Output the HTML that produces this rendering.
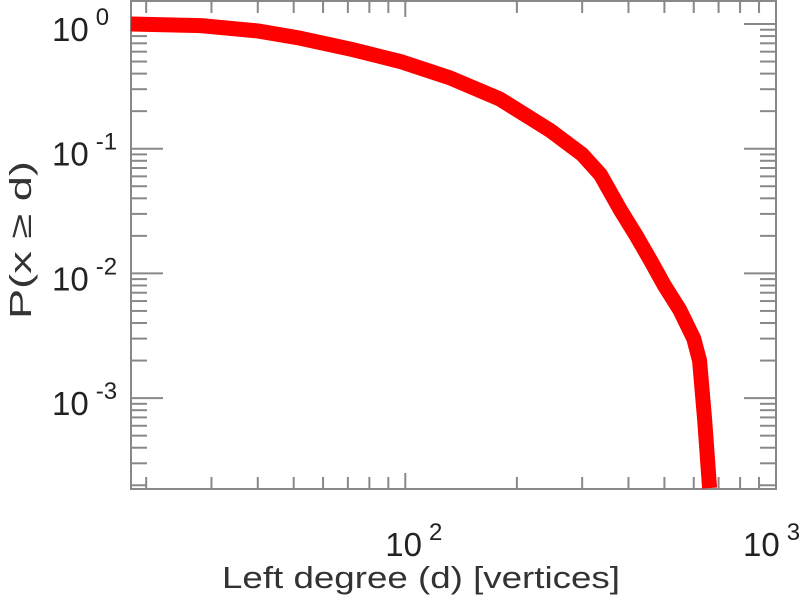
<!DOCTYPE html>
<html><head><meta charset="utf-8"><style>
body{margin:0;background:#fff;}
svg{display:block;font-family:"Liberation Sans",sans-serif;}
</style></head><body>
<svg id="chart" width="805" height="600" viewBox="0 0 805 600"></svg>
<script>
const degrees=[18.2,28.1,40,52,71,97,132,180,246,300,336,381,420,458,500,550,600,622,642,662];
const probs=[1.0,0.97,0.88,0.77,0.63,0.50,0.37,0.25,0.14,0.09,0.062,0.032,0.02,0.0128,0.008,0.0051,0.003,0.002,0.00067,0.00019];
const xTicks=[100,1000];
const xTickExp=["2","3"];
const yTicks=[1,0.1,0.01,0.001];
const yTickExp=["0","-1","-2","-3"];

const L=131,R=776,T=1,B=489;
const xMinL=Math.log10(18.2),xMaxL=3;
const yDec=124.7,y0=24;
function X(v){return L+(Math.log10(v)-xMinL)/(xMaxL-xMinL)*(R-L);}
function Y(v){return y0-Math.log10(v)*yDec;}
const svg=document.getElementById('chart');
const NS='http://www.w3.org/2000/svg';
function mk(t,a,p){const e=document.createElementNS(NS,t);for(const k in a)e.setAttribute(k,a[k]);(p||svg).appendChild(e);return e;}

const fr=mk('rect',{x:L,y:T,width:R-L,height:B-T,fill:'none',stroke:'#888','stroke-width':2});



for(let d=1;d<=3;d++){for(let m=1;m<10;m++){const v=m*Math.pow(10,d);const px=X(v);if(px<L+1||px>R+0.5)continue;
 const len=(m==1)?16:12;
 mk('line',{x1:px,x2:px,y1:B,y2:B-len,stroke:'#888','stroke-width':2});
 mk('line',{x1:px,x2:px,y1:T,y2:T+len,stroke:'#888','stroke-width':2});}}
for(let d=-4;d<=0;d++){for(let m=1;m<10;m++){const v=m*Math.pow(10,d);const py=Y(v);if(py<T||py>B)continue;
 const len=(m==1)?32:16;
 mk('line',{x1:L,x2:L+len,y1:py,y2:py,stroke:'#888','stroke-width':2});
 mk('line',{x1:R,x2:R-len,y1:py,y2:py,stroke:'#888','stroke-width':2});}}

xTicks.forEach((v,i)=>{const t=mk('text',{x:X(v)-(i==1?33:20),y:556,'font-size':33,fill:'#222'});
 
 
 t.textContent='10';const s=mk('tspan',{dx:7,dy:-16,'font-size':24},t);s.textContent=xTickExp[i];});
yTicks.forEach((v,i)=>{const t=mk('text',{x:52,y:Y(v)+17,'font-size':33,fill:'#222'});
 
 
 t.textContent='10';const s=mk('tspan',{dx:7,dy:-16,'font-size':24},t);s.textContent=yTickExp[i];});

let d='';degrees.forEach((v,i)=>{const px=X(v),py=Y(probs[i]);d+=(i==0?'M':' L')+px+' '+py;});
const p=mk('path',{d:d,fill:'none',stroke:'#ff0000','stroke-width':15,'stroke-linejoin':'round'});



const xt=mk('text',{x:222,y:588,'font-size':31,fill:'#333',textLength:398,lengthAdjust:'spacingAndGlyphs'});


xt.textContent='Left degree (d) [vertices]';
const yt=mk('text',{x:0,y:0,'font-size':31,fill:'#333','text-anchor':'middle',textLength:158,lengthAdjust:'spacingAndGlyphs',transform:'translate(31,240) rotate(-90)'});


yt.textContent='P(x \u2265 d)';
</script>
</body></html>
